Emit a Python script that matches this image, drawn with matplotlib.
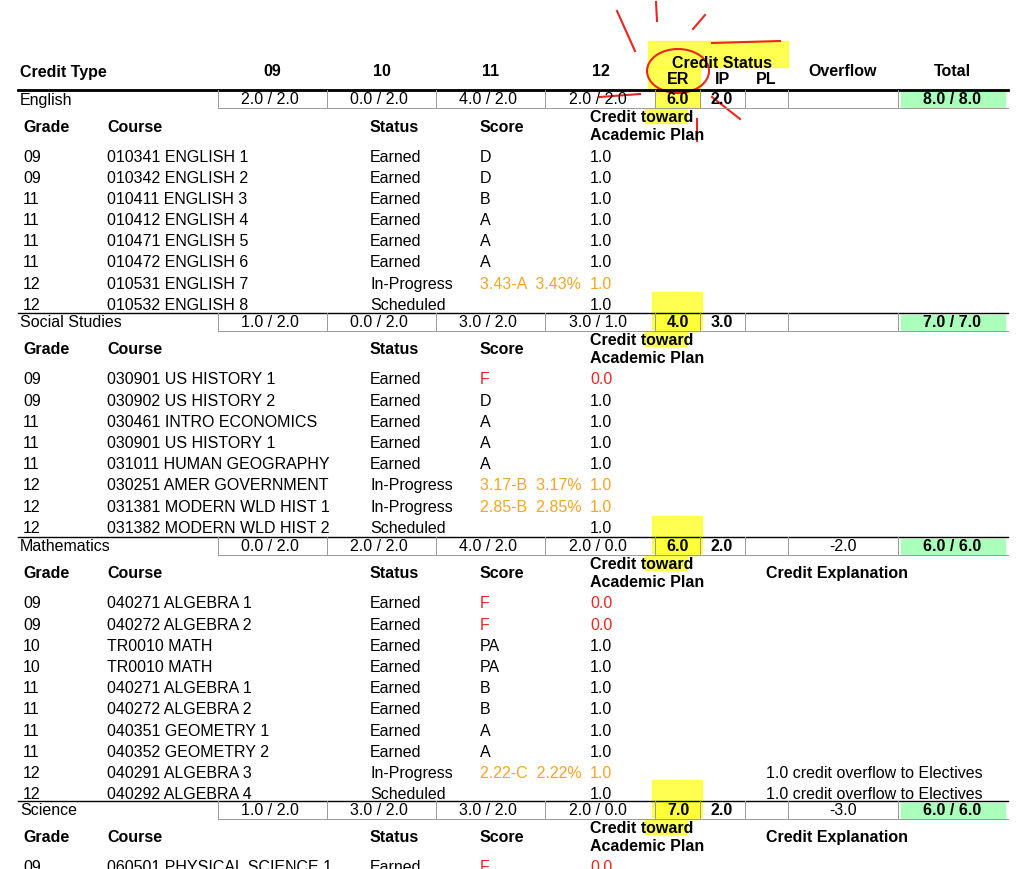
import matplotlib
matplotlib.use("Agg")
import matplotlib.pyplot as plt
from matplotlib.patches import Rectangle, Ellipse

header_cols = ["09", "10", "11", "12"]
categories = ["English", "Social Studies", "Mathematics", "Science"]
cat_grades = [["2.0 / 2.0", "0.0 / 2.0", "4.0 / 2.0", "2.0 / 2.0"],
              ["1.0 / 2.0", "0.0 / 2.0", "3.0 / 2.0", "3.0 / 1.0"],
              ["0.0 / 2.0", "2.0 / 2.0", "4.0 / 2.0", "2.0 / 0.0"],
              ["1.0 / 2.0", "3.0 / 2.0", "3.0 / 2.0", "2.0 / 0.0"]]
cat_er = ["6.0", "4.0", "6.0", "7.0"]
cat_ip = ["2.0", "3.0", "2.0", "2.0"]
cat_overflow = ["", "", "-2.0", "-3.0"]
cat_total = ["8.0 / 8.0", "7.0 / 7.0", "6.0 / 6.0", "6.0 / 6.0"]

english = [("09", "010341 ENGLISH 1", "Earned", "D", "1.0", ""),
           ("09", "010342 ENGLISH 2", "Earned", "D", "1.0", ""),
           ("11", "010411 ENGLISH 3", "Earned", "B", "1.0", ""),
           ("11", "010412 ENGLISH 4", "Earned", "A", "1.0", ""),
           ("11", "010471 ENGLISH 5", "Earned", "A", "1.0", ""),
           ("11", "010472 ENGLISH 6", "Earned", "A", "1.0", ""),
           ("12", "010531 ENGLISH 7", "In-Progress", "3.43-A  3.43%", "1.0", ""),
           ("12", "010532 ENGLISH 8", "Scheduled", "", "1.0", "")]
social = [("09", "030901 US HISTORY 1", "Earned", "F", "0.0", ""),
          ("09", "030902 US HISTORY 2", "Earned", "D", "1.0", ""),
          ("11", "030461 INTRO ECONOMICS", "Earned", "A", "1.0", ""),
          ("11", "030901 US HISTORY 1", "Earned", "A", "1.0", ""),
          ("11", "031011 HUMAN GEOGRAPHY", "Earned", "A", "1.0", ""),
          ("12", "030251 AMER GOVERNMENT", "In-Progress", "3.17-B  3.17%", "1.0", ""),
          ("12", "031381 MODERN WLD HIST 1", "In-Progress", "2.85-B  2.85%", "1.0", ""),
          ("12", "031382 MODERN WLD HIST 2", "Scheduled", "", "1.0", "")]
math = [("09", "040271 ALGEBRA 1", "Earned", "F", "0.0", ""),
        ("09", "040272 ALGEBRA 2", "Earned", "F", "0.0", ""),
        ("10", "TR0010 MATH", "Earned", "PA", "1.0", ""),
        ("10", "TR0010 MATH", "Earned", "PA", "1.0", ""),
        ("11", "040271 ALGEBRA 1", "Earned", "B", "1.0", ""),
        ("11", "040272 ALGEBRA 2", "Earned", "B", "1.0", ""),
        ("11", "040351 GEOMETRY 1", "Earned", "A", "1.0", ""),
        ("11", "040352 GEOMETRY 2", "Earned", "A", "1.0", ""),
        ("12", "040291 ALGEBRA 3", "In-Progress", "2.22-C  2.22%", "1.0", "1.0 credit overflow to Electives"),
        ("12", "040292 ALGEBRA 4", "Scheduled", "", "1.0", "1.0 credit overflow to Electives")]
science = [("09", "060501 PHYSICAL SCIENCE 1", "Earned", "F", "0.0", "")]
sections = [english, social, math, science]
has_expl = [False, False, True, True]

ORANGE = "#f5a623"
RED = "#e8281e"
FS = 11.5

fig = plt.figure(figsize=(10.3, 8.7), dpi=100)
ax = fig.add_axes([0, 0, 1, 1])
ax.set_xlim(0, 1030)
ax.set_ylim(870, 0)
ax.axis("off")
fn = "Liberation Sans"

def t(x, y, s, **kw):
    kw.setdefault("fontsize", FS)
    kw.setdefault("va", "center")
    kw.setdefault("family", fn)
    ax.text(x, y, s, **kw)

ax.add_patch(Rectangle((648, 42), 140, 26, color="#ffff33", alpha=0.85, zorder=0))
ax.add_patch(Rectangle((648, 68), 52, 22, color="#ffff33", alpha=0.85, zorder=0))

t(20, 72, "Credit Type", weight="bold")
for x, s in zip([272, 382, 491, 601], header_cols):
    t(x, 72, s, weight="bold", ha="center")
t(722, 63, "Credit Status", weight="bold", ha="center")
t(678, 80, "ER", weight="bold", ha="center")
t(722, 80, "IP", weight="bold", ha="center")
t(766, 80, "PL", weight="bold", ha="center")
t(843, 72, "Overflow", weight="bold", ha="center")
t(952, 72, "Total", weight="bold", ha="center")
ax.plot([18, 1008], [91, 91], color="black", lw=2)

ax.add_patch(Ellipse((678, 72), 62, 44, fill=False, color=RED, lw=1.5))
ax.plot([617, 635], [12, 52], color=RED, lw=1.5)
ax.plot([656, 657], [3, 22], color=RED, lw=1.5)
ax.plot([693, 705], [30, 16], color=RED, lw=1.5)
ax.plot([712, 780], [44, 42], color=RED, lw=1.5)
ax.plot([712, 740], [98, 120], color=RED, lw=1.5)
ax.plot([697, 697], [120, 142], color=RED, lw=1.5)
ax.plot([600, 640], [98, 95], color=RED, lw=1.5)

cell_x = [18, 218, 327, 436, 545, 655, 700, 745, 788, 898, 1008]
cat_y = [100, 323, 547, 811]
row_h = 21.2
for i, cy in enumerate(cat_y):
    top, bot = cy - 9, cy + 9
    ax.plot([18, 1008], [top, top], color="black", lw=1)
    for x in cell_x[1:-1]:
        ax.plot([x, x], [top, bot], color="#999999", lw=0.7)
    ax.plot([218, 1008], [bot, bot], color="#999999", lw=0.7)
    ax.add_patch(Rectangle((901, top + 1.5), 104, 16, color="#aaffbb", zorder=0))
    if i > 0:
        ax.add_patch(Rectangle((652, cy - 30), 50, 37, color="#ffff33", alpha=0.85, zorder=0))
    ax.add_patch(Rectangle((655, top), 45, 18, color="#ffff33", alpha=0.85, zorder=0))
    t(20, cy, categories[i])
    for j, s in enumerate(cat_grades[i]):
        t(cell_x[j + 2] - 28, cy, s, ha="right")
    t(678, cy, cat_er[i], weight="bold", ha="center")
    t(722, cy, cat_ip[i], weight="bold", ha="center")
    t(843, cy, cat_overflow[i], ha="center")
    t(952, cy, cat_total[i], weight="bold", ha="center")
    hy = cy + 27
    t(23, hy, "Grade", weight="bold")
    t(107, hy, "Course", weight="bold")
    t(370, hy, "Status", weight="bold")
    t(480, hy, "Score", weight="bold")
    t(590, hy - 9, "Credit toward", weight="bold")
    t(590, hy + 9, "Academic Plan", weight="bold")
    if has_expl[i]:
        t(766, hy, "Credit Explanation", weight="bold")
    ax.add_patch(Rectangle((645, hy - 17), 42, 14, color="#ffff33", alpha=0.85, zorder=0))
    for k, (g, c, st, sc, cr, ex) in enumerate(sections[i]):
        ry = cy + 57 + k * row_h
        t(23, ry, g)
        t(107, ry, c)
        t(370, ry, st)
        col = "black"
        ccol = "black"
        if st == "In-Progress":
            col = ccol = ORANGE
        if sc == "F":
            col = ccol = RED
        t(480, ry, sc, color=col)
        t(590, ry, cr, color=ccol)
        if ex:
            t(766, ry, ex)

fig.savefig("out.png", dpi=100)
